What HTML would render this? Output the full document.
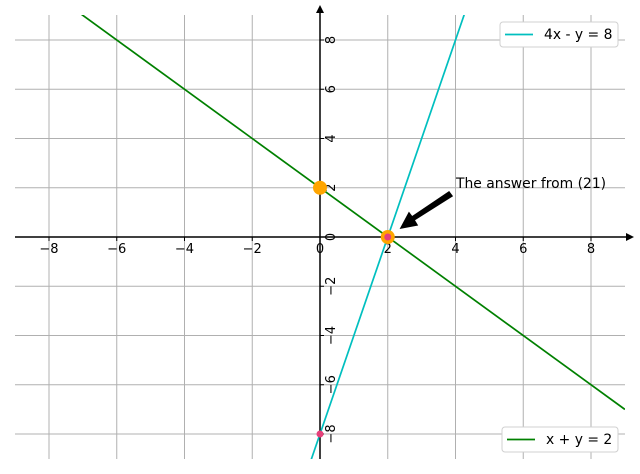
<!DOCTYPE html>
<html><head><meta charset="utf-8"><style>
html,body{margin:0;background:#fff;overflow:hidden;width:640px;height:474px}
svg{display:block;font-family:"DejaVu Sans","Liberation Sans",sans-serif;font-size:13px}
</style></head><body>
<svg id="c" width="640" height="474"></svg>
<script>
const ticks=[-8,-6,-4,-2,0,2,4,6,8];
const lineLabels=["4x - y = 8","x + y = 2"];
const slopes=[4,-1];
const intercepts=[-8,2];
const bigPoints=[[0,2],[2,0]];
const smallPoints=[[2,0],[0,-8]];
const annotation="The answer from (21)";
const X=v=>320+v*33.875, Y=v=>237-v*24.625;
const s=document.getElementById('c');const NS='http://www.w3.org/2000/svg';
function el(t,a,p){const e=document.createElementNS(NS,t);for(const k in a)e.setAttribute(k,a[k]);(p||s).appendChild(e);return e;}
ticks.forEach(t=>{
 let g=el('line',{x1:X(t),x2:X(t),y1:15,y2:459,stroke:'#b0b0b0','stroke-width':1});
 
 
 g=el('line',{x1:15,x2:625,y1:Y(t),y2:Y(t),stroke:'#b0b0b0','stroke-width':1});
 
 
});
let ax=el('line',{x1:15,x2:630,y1:237,y2:237,stroke:'#000','stroke-width':1.5});


ax=el('line',{x1:320,x2:320,y1:10,y2:459,stroke:'#000','stroke-width':1.5});


let ar=el('path',{d:'M634,237 L626,233 L626,241Z',fill:'#000'});


ar=el('path',{d:'M320,5 L316,13 L324,13Z',fill:'#000'});


ticks.forEach(t=>{
 let tk=el('line',{x1:X(t),x2:X(t),y1:237,y2:241,stroke:'#000'});
 
 
 let tx=el('text',{x:X(t),y:253,'text-anchor':'middle'});tx.textContent=(t<0?'\u2212':'')+Math.abs(t);
 
 
 tk=el('line',{x1:320,x2:324,y1:Y(t),y2:Y(t),stroke:'#000'});
 
 
 tx=el('text',{x:0,y:0,'text-anchor':'middle',transform:`translate(335,${Y(t)}) rotate(-90)`});tx.textContent=(t<0?'\u2212':'')+Math.abs(t);
 
 
});
s.insertAdjacentHTML('beforeend','<defs><clipPath id="cp"><rect x="15" y="15" width="610" height="444"/></clipPath></defs>');
slopes.forEach((m,i)=>{
 const l=el('line',{x1:X(-9),y1:Y(m*-9+intercepts[i]),x2:X(9),y2:Y(m*9+intercepts[i]),stroke:i?'#008000':'#00bfbf','stroke-width':1.7,'clip-path':'url(#cp)'});
 
 
});
bigPoints.forEach(p=>{const c=el('circle',{cx:X(p[0]),cy:Y(p[1]),r:7,fill:'#ffa500'});
 
 });
smallPoints.forEach(p=>{const c=el('circle',{cx:X(p[0]),cy:Y(p[1]),r:3.5,fill:'#e6407a'});
 
 });
const a=el('path',{d:'M452,196 L414,220 L417,225 L401,228 L409,213 L412,217 L449,192Z',fill:'#000',stroke:'#000','stroke-width':1.5});


const at=el('text',{x:456,y:188,'font-size':'13.9'});at.textContent=annotation;


[[500,22,118],[502,427,116]].forEach((b,i)=>{
 const g=el('g',{});
 
 
 el('rect',{x:b[0],y:b[1],width:b[2],height:25,rx:3,fill:'#fff',stroke:'#d0d0d0'},g);
 el('line',{x1:b[0]+5,x2:b[0]+33,y1:b[1]+12.5,y2:b[1]+12.5,stroke:i?'#008000':'#00bfbf','stroke-width':1.7},g);
 const t=el('text',{x:b[0]+44,y:b[1]+17,'font-size':'13.9'},g);t.textContent=lineLabels[i];
});
</script>
</body></html>
